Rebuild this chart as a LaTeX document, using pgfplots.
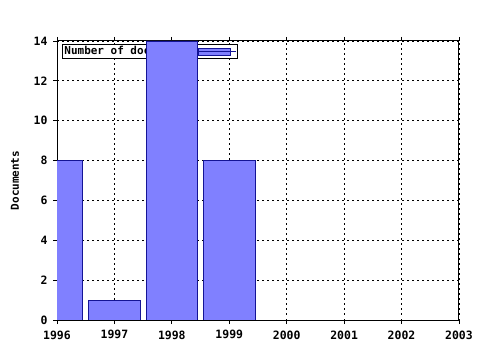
\documentclass[border=0pt]{standalone}
\usepackage{fontspec}
\setmainfont{DejaVu Sans Mono}
\usepackage{pgfplots}
\pgfplotsset{compat=1.18}
\definecolor{barfill}{RGB}{128,128,255}
\definecolor{barline}{RGB}{20,20,150}
\begin{document}
\begin{tikzpicture}
\begin{axis}[
  set layers,
  clip mode=individual,
  scale only axis,
  width=402bp, height=279bp,
  at={(0,0)}, anchor=south west,
  xmin=1996, xmax=2003, ymin=0, ymax=14,
  xtick={1996,...,2003},
  ytick={0,2,...,14},
  minor x tick num=3,
  xticklabel style={/pgf/number format/1000 sep={}, yshift=-3bp},
  yticklabel style={xshift=-2bp},
  /pgf/number format/assume math mode=true,
  tick label style={font=\fontsize{11.5}{13}\selectfont\bfseries},
  tick align=outside,
  xtick pos=both,
  ytick pos=left,
  major tick length=4bp,
  minor tick length=2.5bp,
  axis line style={line width=1bp},
  every tick/.style={black, line width=0.8bp},
  grid=major,
  major grid style={black, line width=0.8bp, dash pattern=on 1.5bp off 3.5bp},
  ylabel={Documents},
  every axis y label/.style={at={(axis description cs:-0.1045,0.5)}, rotate=90, anchor=center,
    font=\fontsize{11}{13}\selectfont\bfseries},
  legend plot pos=right,
  legend style={at={(axis description cs:0.0124,0.989)}, anchor=north west,
    draw=black, line width=0.8bp, inner sep=0.5bp, outer sep=0pt,
    font=\fontsize{11}{11}\selectfont\bfseries,
    cells={anchor=west}},
  legend image code/.code={\draw[#1, line width=0.8bp] (6bp,-3.5bp) rectangle (38bp,3.5bp);
    \path (0bp,0bp) -- (44bp,0bp);},
]
\addplot[ybar, bar width=0.9, fill=barfill, draw=barline, line width=0.8bp, on layer=axis foreground]
  coordinates {(1996,8) (1997,1) (1998,14) (1999,8)};
\addlegendentry{Number of documents}
\end{axis}
\path (-57bp,-30bp) rectangle (423bp,320bp);
\end{tikzpicture}
\end{document}
